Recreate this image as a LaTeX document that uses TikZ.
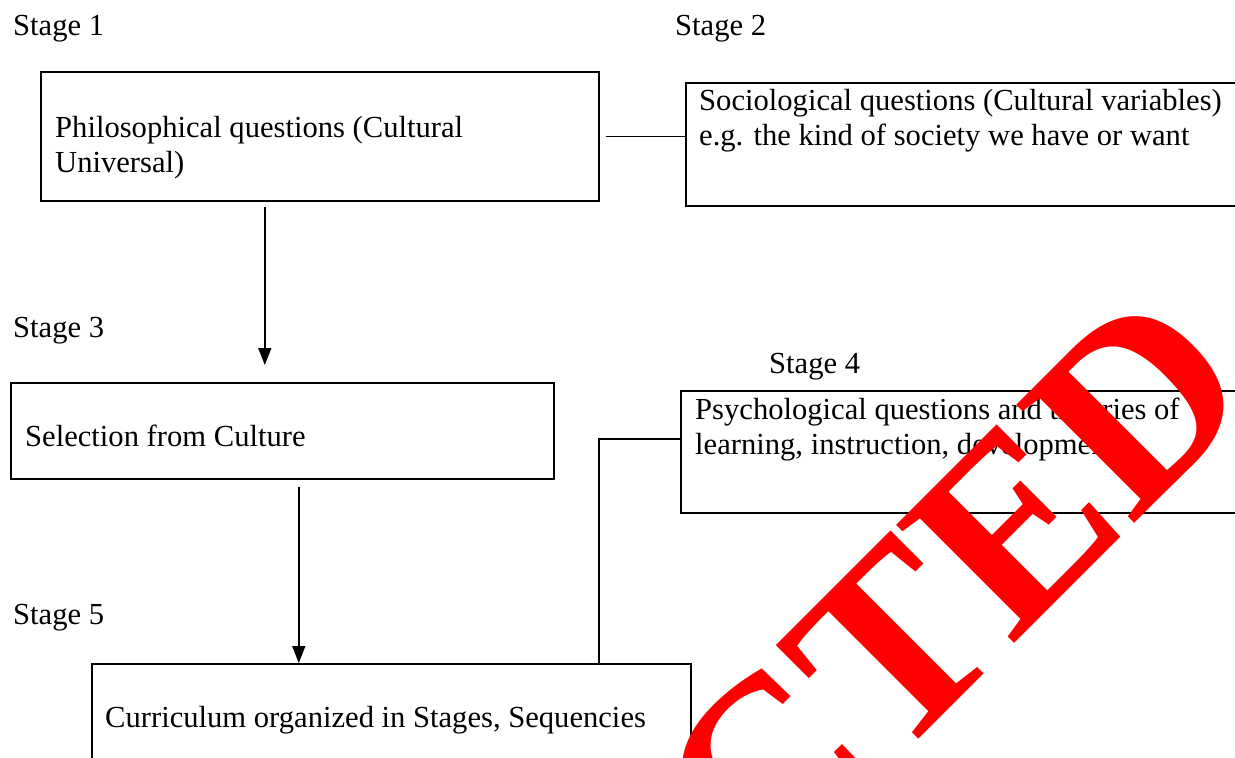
\documentclass[tikz,border=0pt]{standalone}
\usepackage{fontspec}
\setmainfont{Liberation Serif}
\usetikzlibrary{arrows.meta,calc}
\newcommand{\twolines}[2]{\parbox[t]{700pt}{\fontsize{30.6}{35}\selectfont #1\\#2}}
\begin{document}
\begin{tikzpicture}[x=1pt,y=-1pt,
  box/.style={draw, line width=1.6pt, rectangle, inner sep=0pt, anchor=north west},
  txt/.style={inner sep=0pt, anchor=base west, font=\fontsize{30.6}{35}\selectfont},
  stagelbl/.style={txt},
  conn/.style={line width=1.6pt},
  arr/.style={line width=1.6pt, -{Triangle[length=17pt,width=13pt]}},
  wmark/.style={text=red, rotate=45, anchor=base west, inner sep=0pt, font=\bfseries\fontsize{255}{255}\selectfont}]
\useasboundingbox (0,0) rectangle (1235,758);
\clip (0,0) rectangle (1235,758);
\fill[white] (0,0) rectangle (1235,758);
% stage labels
\node[stagelbl] (s1) at (13,35) {Stage 1};
\node[stagelbl] (s2) at (675,35) {Stage 2};
\node[stagelbl] (s3) at (13,337) {Stage 3};
\node[stagelbl] (s4) at (769,373) {Stage 4};
\node[stagelbl] (s5) at (13,624) {Stage 5};
% boxes
\node[box, minimum width=558pt, minimum height=129pt] (b1) at (40,71) {};
\node[box, minimum width=570pt, minimum height=123pt] (b2) at (685,82) {};
\node[box, minimum width=543pt, minimum height=96pt] (b3) at (10,382) {};
\node[box, minimum width=575pt, minimum height=122pt] (b4) at (680,390) {};
\node[box, minimum width=599pt, minimum height=140pt] (b5) at (91,663) {};
% texts
\node[inner sep=0pt, anchor=base west] (t1) at (55,137) {\twolines{Philosophical questions (Cultural}{Universal)}};
\node[inner sep=0pt, anchor=base west] (t2) at (699,110) {\twolines{Sociological questions (Cultural variables)}{e.g. the kind of society we have or want}};
\node[txt] (t3) at (25,446) {Selection from Culture};
\node[inner sep=0pt, anchor=base west] (t4) at (695,419) {\twolines{Psychological questions and theories of}{learning, instruction, development}};
\node[txt] (t5) at (105,727) {Curriculum organized in Stages, Sequencies};
% connectors
\draw[conn] ([xshift=6pt]b1.east) -- (b1.east -| b2.west);
\draw[arr] ([xshift=-55pt,yshift=-5pt]b1.south) -- ([xshift=-55pt,yshift=17pt]b3.north -| b1.south);
\draw[arr] ([xshift=16.5pt,yshift=-7pt]b3.south) -- ([xshift=16.5pt]b3.south |- b5.north);
\draw[conn] ([yshift=13pt]b4.west) -| ([xshift=207.5pt]b5.north);
% watermark
\node[wmark] (wm) at (761,897) {CTED};
\end{tikzpicture}
\end{document}
